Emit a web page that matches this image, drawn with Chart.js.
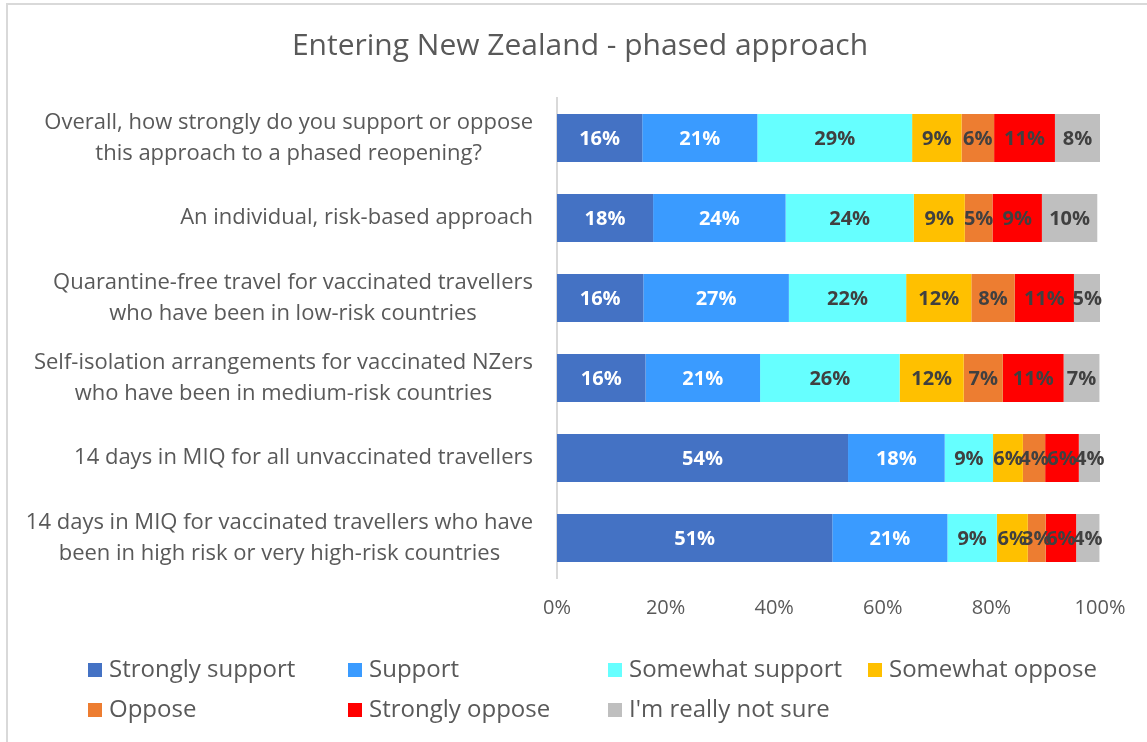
<!DOCTYPE html>
<html>
<head>
<meta charset="utf-8">
<script src="https://cdn.jsdelivr.net/npm/chart.js@4"></script>
<style>
  html, body { margin: 0; padding: 0; background: #fff; }
  #wrap { width: 1147px; height: 742px; position: relative; }
</style>
</head>
<body>
<div id="wrap"><canvas id="myChart" width="1147" height="742"></canvas></div>
<script>
const chartTitle = 'Entering New Zealand - phased approach';

const questions = [
  ['Overall, how strongly do you support or oppose', 'this approach to a phased reopening?'],
  'An individual, risk-based approach',
  ['Quarantine-free travel for vaccinated travellers', 'who have been in low-risk countries'],
  ['Self-isolation arrangements for vaccinated NZers', 'who have been in medium-risk countries'],
  '14 days in MIQ for all unvaccinated travellers',
  ['14 days in MIQ for vaccinated travellers who have', 'been in high risk or very high-risk countries'],
];

const strongSupport = [15.7, 17.7, 15.9, 16.3, 53.6, 50.7];
const support = [21.2, 24.4, 26.8, 21.1, 17.8, 21.2];
const somewhatSupport = [28.5, 23.6, 21.6, 25.7, 8.9, 9.1];
const somewhatOppose = [9.1, 9.4, 12.0, 11.8, 5.5, 5.7];
const oppose = [6.0, 5.1, 8.0, 7.2, 4.1, 3.3];
const strongOppose = [11.2, 9.1, 10.9, 11.2, 6.2, 5.6];
const notSure = [8.3, 10.2, 4.9, 6.6, 4.0, 4.3];

const xTicks = [0, 20, 40, 60, 80, 100];

const FONT = '"Open Sans", "DejaVu Sans", sans-serif';
const GREY = '#595959';

const dataD = {
  labels: questions,
  datasets: [
    { label: 'Strongly support', data: strongSupport, backgroundColor: '#4472C4', textColor: '#ffffff' },
    { label: 'Support', data: support, backgroundColor: '#3A9BFF', textColor: '#ffffff' },
    { label: 'Somewhat support', data: somewhatSupport, backgroundColor: '#66FFFF', textColor: '#404040' },
    { label: 'Somewhat oppose', data: somewhatOppose, backgroundColor: '#FFC000', textColor: '#404040' },
    { label: 'Oppose', data: oppose, backgroundColor: '#ED7D31', textColor: '#404040' },
    { label: 'Strongly oppose', data: strongOppose, backgroundColor: '#FF0000', textColor: '#404040' },
    { label: "I'm really not sure", data: notSure, backgroundColor: '#BFBFBF', textColor: '#404040' },
  ]
};

// frame, white background and title (title sits off-centre in the original)
const framePlugin = {
  id: 'frame',
  beforeDraw(chart) {
    const ctx = chart.ctx;
    ctx.save();
    ctx.fillStyle = '#ffffff';
    ctx.fillRect(0, 0, chart.width, chart.height);
    ctx.fillStyle = '#d9d9d9';
    ctx.fillRect(6, 3, chart.width - 6, 2);
    ctx.fillRect(6, 3, 2, chart.height - 3);
    ctx.font = '30px ' + FONT;
    ctx.fillStyle = GREY;
    ctx.textAlign = 'center';
    ctx.textBaseline = 'middle';
    ctx.fillText(chartTitle, 580, 46);
    ctx.restore();
  }
};

// category labels: block right-aligned to the axis, lines centred inside the block
const categoryLabels = {
  id: 'categoryLabels',
  afterDraw(chart) {
    const ctx = chart.ctx;
    const yScale = chart.scales.y;
    const right = chart.chartArea.left - 24;
    const lineH = 31;
    ctx.save();
    ctx.font = '22px ' + FONT;
    ctx.fillStyle = GREY;
    ctx.textAlign = 'center';
    ctx.textBaseline = 'middle';
    chart.data.labels.forEach((lab, i) => {
      const lines = Array.isArray(lab) ? lab : [lab];
      const w = Math.max(...lines.map(l => ctx.measureText(l).width));
      const cx = right - w / 2;
      const cy = yScale.getPixelForTick(i);
      lines.forEach((l, k) => {
        ctx.fillText(l, cx, cy + (k - (lines.length - 1) / 2) * lineH);
      });
    });
    ctx.restore();
  }
};

// percentage labels centred in each segment
const segmentLabels = {
  id: 'segmentLabels',
  afterDatasetsDraw(chart) {
    const ctx = chart.ctx;
    ctx.save();
    ctx.font = 'bold 20px ' + FONT;
    ctx.textAlign = 'center';
    ctx.textBaseline = 'middle';
    chart.data.datasets.forEach((ds, i) => {
      const meta = chart.getDatasetMeta(i);
      meta.data.forEach((bar, j) => {
        const cx = (bar.x + bar.base) / 2;
        ctx.fillStyle = ds.textColor;
        ctx.fillText(Math.round(ds.data[j]) + '%', cx, bar.y + 1);
      });
    });
    ctx.restore();
  }
};

// legend laid out on a fixed grid, like the original
const gridLegend = {
  id: 'gridLegend',
  afterDraw(chart) {
    const ctx = chart.ctx;
    const cols = 4, colW = 260, x0 = 88, y0 = 670, rowH = 40, box = 14;
    ctx.save();
    ctx.font = '24px ' + FONT;
    ctx.textBaseline = 'middle';
    ctx.textAlign = 'left';
    chart.data.datasets.forEach((ds, i) => {
      const x = x0 + (i % cols) * colW;
      const y = y0 + Math.floor(i / cols) * rowH;
      ctx.fillStyle = ds.backgroundColor;
      ctx.fillRect(x, y - box / 2, box, box);
      ctx.fillStyle = GREY;
      ctx.fillText(ds.label, x + 21, y);
    });
    ctx.restore();
  }
};

const configD = {
  type: 'bar',
  data: dataD,
  options: {
    indexAxis: 'y',
    responsive: false,
    animation: false,
    datasets: {
      bar: { categoryPercentage: 0.6, barPercentage: 1.0, borderWidth: 0 }
    },
    layout: { padding: { top: 98, left: 8, right: 47, bottom: 120 } },
    scales: {
      x: {
        stacked: true,
        min: 0,
        max: 100,
        afterBuildTicks: (axis) => { axis.ticks = xTicks.map(v => ({ value: v })); },
        afterFit: (axis) => { axis.height = 44; },
        grid: { display: false, drawTicks: false },
        border: { display: false },
        ticks: {
          padding: 18,
          color: GREY,
          font: { family: FONT, size: 20 },
          callback: (v) => v + '%'
        }
      },
      y: {
        stacked: true,
        afterFit: (axis) => { axis.width = 557 - 8; },
        grid: { display: false, drawTicks: false },
        border: { display: true, color: '#d9d9d9', width: 2 },
        ticks: { display: false }
      }
    },
    plugins: {
      legend: { display: false },
      tooltip: { enabled: false },
      title: { display: false }
    }
  },
  plugins: [framePlugin, categoryLabels, segmentLabels, gridLegend]
};

const myChartD = new Chart(
  document.getElementById('myChart'),
  configD
);
</script>
</body>
</html>
